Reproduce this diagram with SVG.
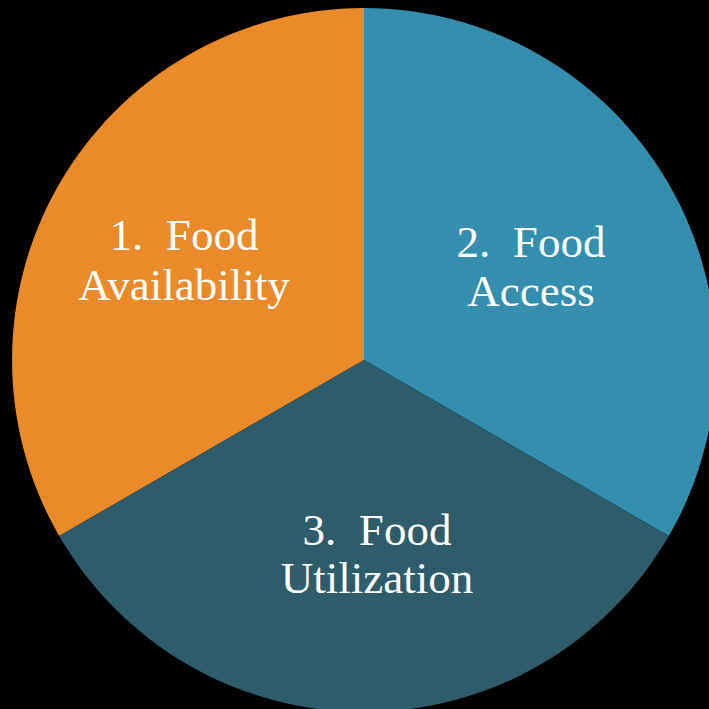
<svg xmlns="http://www.w3.org/2000/svg" width="709" height="709" viewBox="0 0 709 709">
<style>
.lbl{font-family:"Liberation Serif","DejaVu Serif",serif;font-size:45px;fill:#ffffff;text-anchor:middle;white-space:pre}
</style>
<rect width="709" height="709" fill="#000000"/>
<g id="slice1">
<path d="M364 360 L364 8 A352 352 0 0 0 59.2 536 Z" fill="#EA8A28"/>
<text class="lbl" x="184" y="250" xml:space="preserve">1.  Food</text>
<text class="lbl" x="184" y="300">Availability</text>
</g>
<g id="slice2">
<path d="M364 360 L364 8 A352 352 0 0 1 668.8 536 Z" fill="#348FAF"/>
<text class="lbl" x="531" y="257" xml:space="preserve">2.  Food</text>
<text class="lbl" x="531" y="306">Access</text>
</g>
<g id="slice3">
<path d="M364 360 L668.8 536 A352 352 0 0 1 59.2 536 Z" fill="#2E5C6B"/>
<text class="lbl" x="377" y="545" xml:space="preserve">3.  Food</text>
<text class="lbl" x="377" y="593">Utilization</text>
</g>
</svg>
